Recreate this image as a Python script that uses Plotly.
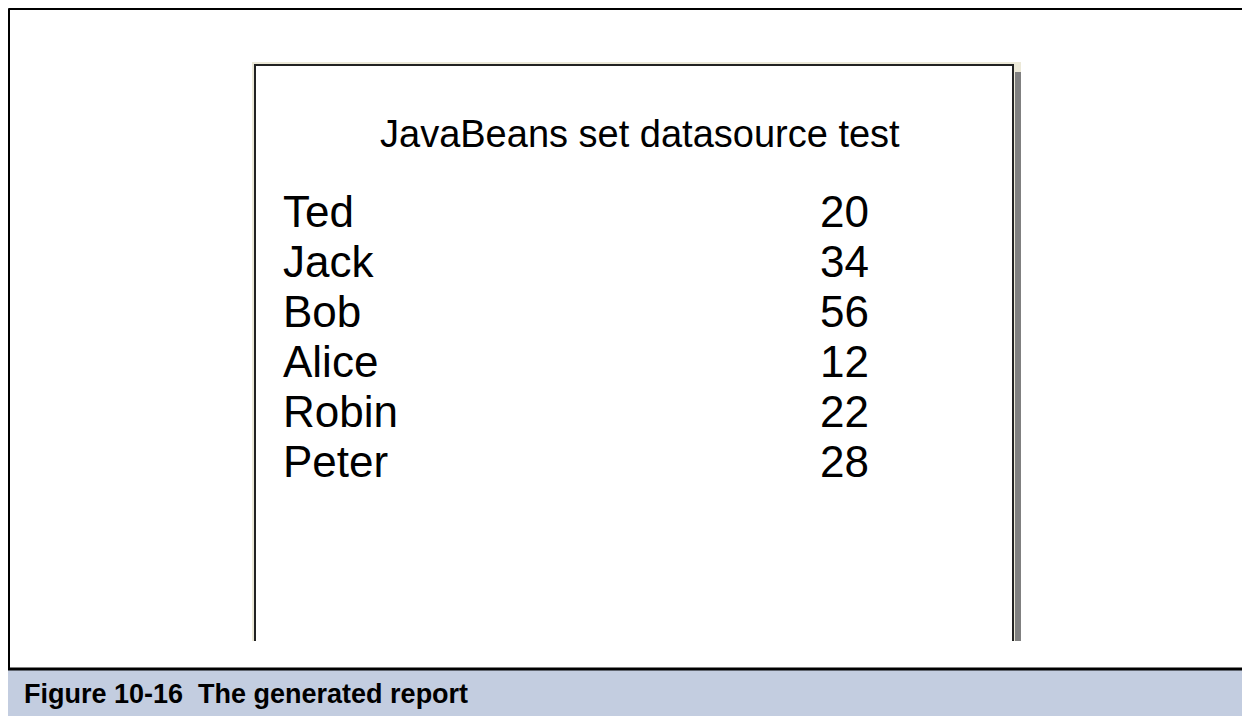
import plotly.graph_objects as go

# The page body keeps the browser's default 8px margin, so the figure is
# shifted by it and its axes are set so one unit = one screen pixel.
W, H = 1250, 716
OFFSET = 8

REPORT_TITLE = "JavaBeans set datasource test"
NAMES = ["Ted", "Jack", "Bob", "Alice", "Robin", "Peter"]
AGES = [20, 34, 56, 12, 22, 28]
CAPTION = "Figure 10-16\u00a0\u00a0The generated report"

FONT = "Liberation Sans, Arial, sans-serif"
BEIGE = "#ece9d8"
SHADOW = "#808080"
CAPTION_BG = "#c3cde0"

# detail band layout (screen pixels, y grows downward)
FIRST_ROW = 216
ROW_PITCH = 50
NAME_X = 283
AGE_X = 869

rows = [FIRST_ROW + i * ROW_PITCH for i in range(len(NAMES))]


def rect(x0, y0, x1, y1, fill):
    return dict(
        type="rect", xref="x", yref="y", x0=x0, y0=y0, x1=x1, y1=y1,
        fillcolor=fill, line=dict(width=0), layer="below",
    )


def seg(x0, y0, x1, y1, color="#000", width=2):
    return dict(
        type="line", xref="x", yref="y", x0=x0, y0=y0, x1=x1, y1=y1,
        line=dict(color=color, width=width), layer="below",
    )


shapes = [
    # outer figure frame
    seg(8.5, 8.5, W + 5, 8.5, width=3),
    seg(8.5, 8.5, 8.5, H + 5, width=3),
    # caption band
    rect(8, 669, W + 5, H + 5, CAPTION_BG),
    seg(8, 669, W + 5, 669, width=3),
    # report page: beige bevel, shadow, white sheet, dark border
    rect(252, 62, 1021, 641, BEIGE),
    rect(1015, 72, 1021, 641, SHADOW),
    rect(256, 66, 1013, 641, "white"),
    seg(255, 65, 255, 641, color="#222"),
    seg(254, 65, 1014, 65, color="#222"),
    seg(1013, 65, 1013, 641, color="#222"),
]

fig = go.Figure()
fig.add_trace(
    go.Scatter(
        x=[NAME_X] * len(NAMES), y=rows, text=NAMES, mode="text",
        textposition="middle right",
        textfont=dict(family=FONT, size=44, color="#000"),
        hoverinfo="skip",
    )
)
fig.add_trace(
    go.Scatter(
        x=[AGE_X] * len(AGES), y=rows, text=[str(a) for a in AGES], mode="text",
        textposition="middle left",
        textfont=dict(family=FONT, size=44, color="#000"),
        hoverinfo="skip",
    )
)

fig.update_layout(
    width=W - OFFSET, height=H - OFFSET,
    autosize=False,
    margin=dict(l=0, r=0, t=0, b=0),
    paper_bgcolor="white", plot_bgcolor="white",
    showlegend=False,
    xaxis=dict(range=[OFFSET, W], visible=False, fixedrange=True),
    yaxis=dict(range=[H, OFFSET], visible=False, fixedrange=True),
    shapes=shapes,
    annotations=[
        dict(
            text=REPORT_TITLE, xref="x", yref="y", x=640, y=134,
            showarrow=False, xanchor="center", yanchor="middle",
            font=dict(family=FONT, size=38, color="#000"),
        ),
        dict(
            text=f"<b>{CAPTION}</b>", xref="x", yref="y", x=22, y=694,
            showarrow=False, xanchor="left", yanchor="middle",
            font=dict(family=FONT, size=27, color="#000"),
        ),
    ],
)

fig.write_html("out.html")
